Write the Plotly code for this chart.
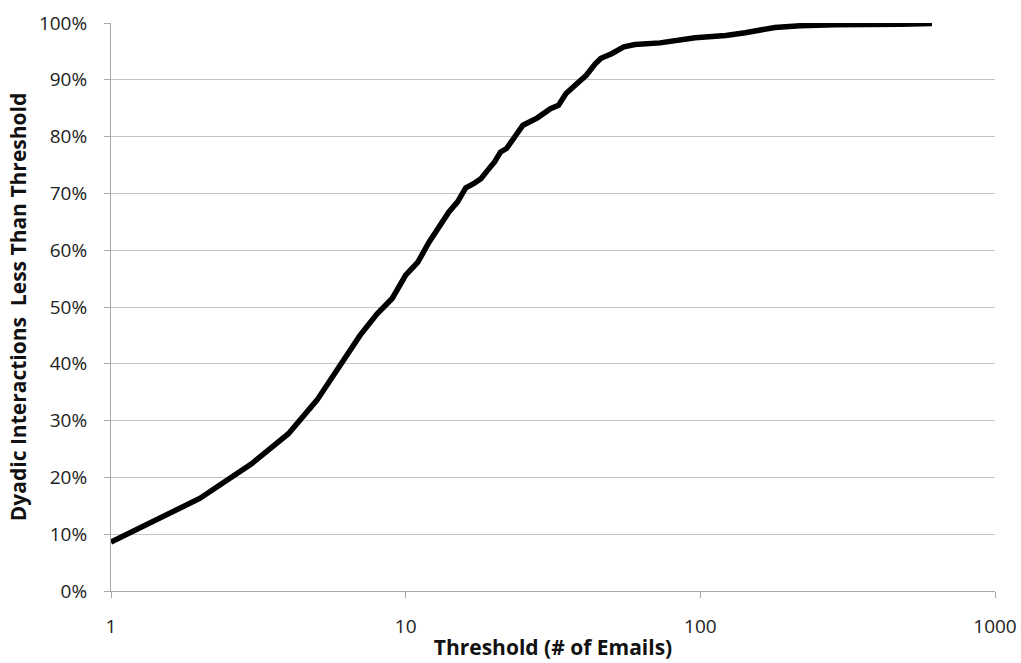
import plotly.graph_objects as go

thresholds = [1, 2, 3, 4, 5, 6, 7, 8, 9, 10, 11, 12, 13, 14, 15, 16, 17, 18, 19, 20,
              21, 22, 25, 28, 31, 33, 35, 39, 41, 44, 46, 50, 55, 60, 73, 96, 122,
              142, 179, 218, 286, 476, 611]
share_below = [8.6, 16.3, 22.4, 27.7, 33.6, 40.0, 45.0, 48.8, 51.5, 55.6, 57.9, 61.4,
               64.1, 66.7, 68.5, 71.0, 71.7, 72.6, 74.1, 75.5, 77.3, 77.9, 82.0, 83.3,
               84.9, 85.5, 87.6, 89.9, 90.8, 92.8, 93.8, 94.6, 95.8, 96.2, 96.5, 97.4,
               97.8, 98.3, 99.2, 99.5, 99.7, 99.8, 99.9]
share_below = [v / 100 for v in share_below]

x_ticks = [1, 10, 100, 1000]
x_tick_labels = ["1", "10", "100", "1000"]
y_ticks = [i / 10 for i in range(11)]
y_tick_labels = [f"{i * 10}%" for i in range(11)]

FONT = "Open Sans"

fig = go.Figure()
fig.add_trace(go.Scatter(
    x=thresholds, y=share_below, mode="lines",
    line=dict(color="black", width=5.5),
    showlegend=False, hoverinfo="skip",
))

fig.update_layout(
    width=1021, height=663,
    margin=dict(l=111, r=26, t=23, b=72),
    plot_bgcolor="white", paper_bgcolor="white",
    font=dict(family=FONT, size=19, color="#222222"),
)
fig.update_xaxes(
    type="log", range=[0, 3], automargin=False,
    tickvals=x_ticks, ticktext=x_tick_labels,
    showgrid=False, zeroline=False,
    showline=True, linecolor="#a8a8a8", linewidth=1,
    ticks="outside", ticklen=6, tickcolor="#a8a8a8",
    ticklabelstandoff=12,
    title=dict(text="<b>Threshold (# of Emails)</b>", font=dict(family=FONT, size=21, color="#111111"), standoff=2),
)
fig.update_yaxes(
    range=[0, 1], automargin=False,
    tickvals=y_ticks, ticktext=y_tick_labels,
    showgrid=True, gridcolor="#c4c4c4", gridwidth=1,
    zeroline=False,
    showline=True, linecolor="#a8a8a8", linewidth=1,
    ticks="outside", ticklen=6, tickcolor="#a8a8a8",
    ticklabelstandoff=13,
    title=dict(text="<b>Dyadic Interactions  Less Than Threshold</b>", font=dict(family=FONT, size=21, color="#111111"), standoff=6),
)

fig.write_html("out.html")
